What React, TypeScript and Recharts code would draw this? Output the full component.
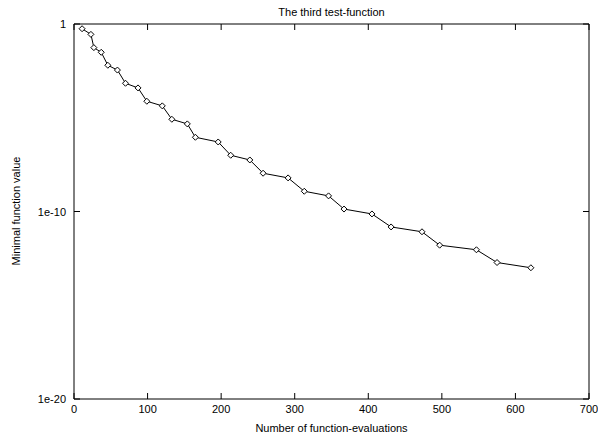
import React from "react";
import { LineChart, Line, XAxis, YAxis } from "recharts";

const evaluations = [11, 23, 27, 37, 46, 59, 70, 87, 99, 120, 133, 154, 165, 196, 213, 239, 257, 291, 313, 346, 367, 405, 431, 473, 497, 547, 575, 621];
const minimalValues = [5.6e-1, 2.8e-1, 5.5e-2, 3.1e-2, 6.3e-3, 3.5e-3, 6.9e-4, 3.9e-4, 7.6e-5, 4.3e-5, 8.3e-6, 4.7e-6, 9.1e-7, 5.1e-7, 1.0e-7, 5.6e-8, 1.1e-8, 6.2e-9, 1.2e-9, 6.8e-10, 1.35e-10, 7.4e-11, 1.5e-11, 8.3e-12, 1.6e-12, 9.1e-13, 1.9e-13, 1.0e-13];
const xTicks = [0, 100, 200, 300, 400, 500, 600, 700];
const yTicks = [1e-20, 1e-10, 1];
const yTickLabels = ["1e-20", "1e-10", "1"];

const title = "The third test-function";
const xLabel = "Number of function-evaluations";
const yLabel = "Minimal function value";

const data = evaluations.map((e, i) => ({ x: e, y: minimalValues[i] }));

const FONT = "'Liberation Sans', Arial, Helvetica, sans-serif";
const TL = 6;

const BottomTick = (p: any) => (
  <g>
    <line x1={p.x} y1={p.y} x2={p.x} y2={p.y - TL} stroke="#000" />
    <text x={p.x} y={p.y + 14} textAnchor="middle" fontSize={11} fontFamily={FONT} fill="#000">
      {p.payload.value}
    </text>
  </g>
);
const TopTick = (p: any) => (
  <line x1={p.x} y1={p.y} x2={p.x} y2={p.y + TL} stroke="#000" />
);
const LeftTick = (p: any) => {
  const v = p.payload.value;
  const idx = yTicks.indexOf(v);
  return (
    <g>
      <line x1={p.x} y1={p.y} x2={p.x + TL} y2={p.y} stroke="#000" />
      <text x={p.x - 8} y={p.y + 4} textAnchor="end" fontSize={11} fontFamily={FONT} fill="#000">
        {idx >= 0 ? yTickLabels[idx] : String(v)}
      </text>
    </g>
  );
};
const RightTick = (p: any) => (
  <line x1={p.x} y1={p.y} x2={p.x - TL} y2={p.y} stroke="#000" />
);

const Diamond = (p: any) => {
  const { cx, cy } = p;
  if (cx == null || cy == null) return null;
  const r = 3;
  return (
    <path
      key={`d-${p.index}`}
      d={`M${cx},${cy - r}L${cx + r},${cy}L${cx},${cy + r}L${cx - r},${cy}Z`}
      fill="#fff"
      stroke="#000"
      strokeWidth={1}
    />
  );
};

export default function App() {
  return (
    <div style={{ position: "absolute", left: 0, top: 0, width: 598, height: 436, background: "#fff", fontFamily: FONT }}>
      <LineChart
        width={598}
        height={436}
        data={data}
        margin={{ top: 23, right: 8, bottom: 36, left: 73 }}
      >
        <XAxis
          xAxisId="b"
          dataKey="x"
          type="number"
          domain={[0, 700]}
          ticks={xTicks}
          orientation="bottom"
          height={1}
          tickSize={0}
          tickMargin={0}
          tickLine={false}
          tick={BottomTick}
          axisLine={{ stroke: "#000" }}
          allowDataOverflow
          interval={0}
        />
        <XAxis
          xAxisId="t"
          dataKey="x"
          type="number"
          domain={[0, 700]}
          ticks={xTicks}
          orientation="top"
          height={1}
          tickSize={0}
          tickMargin={0}
          tickLine={false}
          tick={TopTick}
          axisLine={{ stroke: "#000" }}
          allowDataOverflow
          interval={0}
        />
        <YAxis
          yAxisId="l"
          dataKey="y"
          type="number"
          scale="log"
          domain={[1e-20, 1]}
          ticks={yTicks}
          orientation="left"
          width={1}
          tickSize={0}
          tickMargin={0}
          tickLine={false}
          tick={LeftTick}
          axisLine={{ stroke: "#000" }}
          allowDataOverflow
          interval={0}
        />
        <YAxis
          yAxisId="r"
          dataKey="y"
          type="number"
          scale="log"
          domain={[1e-20, 1]}
          ticks={yTicks}
          orientation="right"
          width={1}
          tickSize={0}
          tickMargin={0}
          tickLine={false}
          tick={RightTick}
          axisLine={{ stroke: "#000" }}
          allowDataOverflow
          interval={0}
        />
        <Line
          xAxisId="b"
          yAxisId="l"
          dataKey="y"
          type="linear"
          stroke="#000"
          strokeWidth={1}
          dot={Diamond}
          activeDot={false}
          isAnimationActive={false}
        />
      </LineChart>
      <div style={{ position: "absolute", left: 74, width: 515, top: 5, textAlign: "center", fontSize: 11, lineHeight: "14px", color: "#000" }}>
        {title}
      </div>
      <div style={{ position: "absolute", left: 74, width: 515, top: 421, textAlign: "center", fontSize: 11, lineHeight: "14px", color: "#000" }}>
        {xLabel}
      </div>
      <div
        style={{
          position: "absolute",
          left: 16 - 100,
          top: 211 - 7,
          width: 200,
          textAlign: "center",
          fontSize: 11,
          lineHeight: "14px",
          color: "#000",
          transform: "rotate(-90deg)",
          transformOrigin: "100px 7px",
        }}
      >
        {yLabel}
      </div>
    </div>
  );
}
